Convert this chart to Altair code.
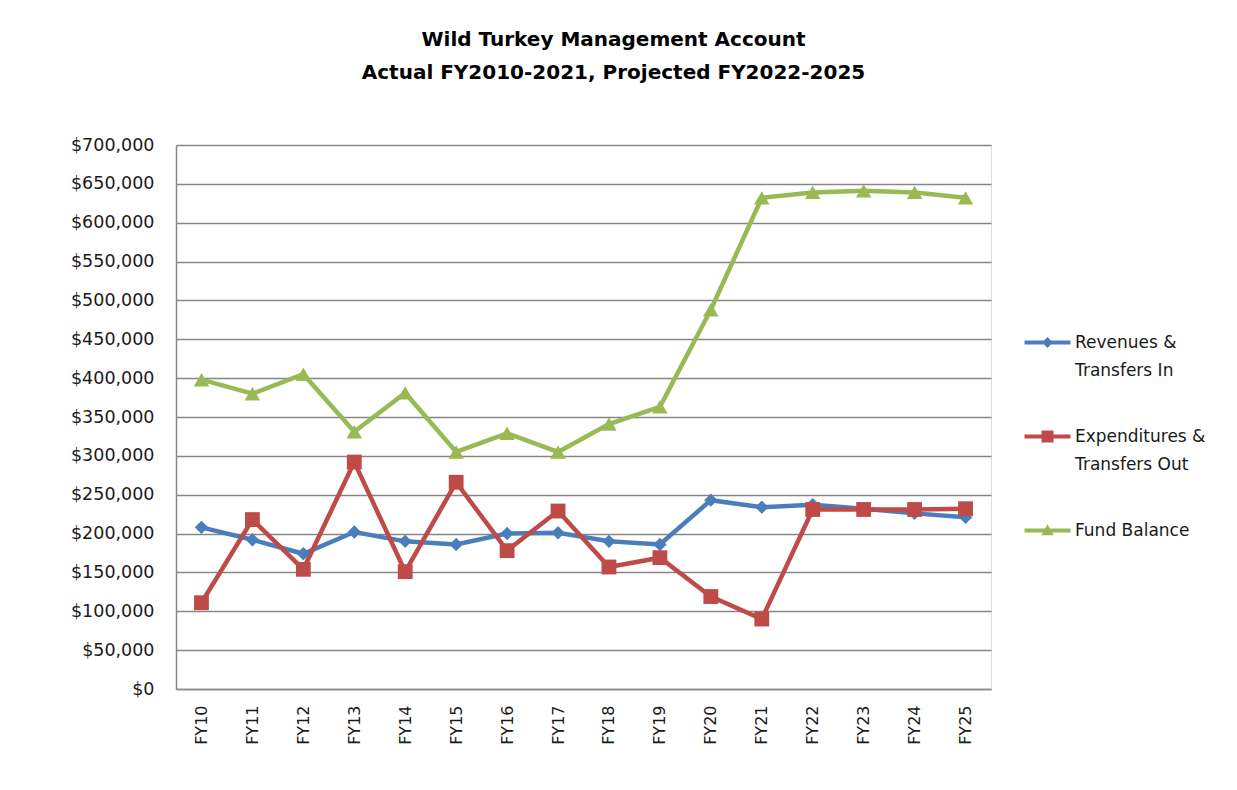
import altair as alt
import pandas as pd

years = ["FY10", "FY11", "FY12", "FY13", "FY14", "FY15", "FY16", "FY17",
         "FY18", "FY19", "FY20", "FY21", "FY22", "FY23", "FY24", "FY25"]
revenues = [208000, 192000, 174000, 202000, 190000, 186000, 200000, 201000,
            190000, 186000, 243000, 234000, 237000, 232000, 226000, 221000]
expenditures = [111000, 218000, 154000, 292000, 151000, 266000, 178000, 229000,
                157000, 169000, 119000, 90000, 231000, 231000, 231000, 232000]
fund_balance = [398000, 380000, 405000, 331000, 381000, 305000, 329000, 305000,
                341000, 363000, 488000, 632000, 639000, 641000, 639000, 632000]

series = ["Revenues & Transfers In", "Expenditures & Transfers Out", "Fund Balance"]
colors = ["#4A7EBB", "#BE4B48", "#98B954"]
marker_shapes = ["diamond", "square", "triangle-up"]
marker_sizes = [180, 220, 240]

rows = []
for name, vals in zip(series, [revenues, expenditures, fund_balance]):
    for yr, v in zip(years, vals):
        rows.append({"year": yr, "series": name, "value": v})
df = pd.DataFrame(rows)


# legend symbols: a line with the marker on it (custom SVG paths, unit = 6px)
def legend_path(kind):
    line = "M-3.83,-0.33H3.83V0.33H-3.83Z"
    if kind == "diamond":
        m = "M0,-0.9L0.9,0L0,0.9L-0.9,0Z"
    elif kind == "square":
        m = "M-1,-1H1V1H-1Z"
    else:
        m = "M0,-1.05L1.05,0.8H-1.05Z"
    return line + m


legend_paths = [legend_path("diamond"), legend_path("square"), legend_path("triangle")]

label_expr = ("indexof(datum.label, '&') > 0 ? "
              "[slice(datum.label, 0, indexof(datum.label, '&') + 1), "
              "slice(datum.label, indexof(datum.label, '&') + 2)] : datum.label")

legend = alt.Legend(
    title=None, orient="none", legendX=863, legendY=189, padding=0,
    labelExpr=label_expr, labelFont="DejaVu Sans", labelFontSize=17,
    labelColor="#1a1a1a", labelOffset=19, labelLimit=400,
    symbolSize=144, symbolStrokeWidth=0, rowPadding=48,
)

x = alt.X("year:N", sort=years, title=None,
          scale=alt.Scale(padding=0.5),
          axis=alt.Axis(labelAngle=270, labelFont="DejaVu Sans", labelFontSize=16,
                        labelColor="#1a1a1a", labelPadding=16, ticks=False,
                        grid=False, domainColor="#8a8a8a", domainWidth=1.5))
y = alt.Y("value:Q", title=None,
          scale=alt.Scale(domain=[0, 700000], nice=False),
          axis=alt.Axis(values=list(range(0, 700001, 50000)), format="$,.0f",
                        labelFont="DejaVu Sans", labelFontSize=17.5,
                        labelColor="#1a1a1a", labelPadding=22, ticks=False,
                        grid=True, gridColor="#868686", gridWidth=1.3,
                        domainColor="#868686", domainWidth=1.5))
color_nolegend = alt.Color("series:N", scale=alt.Scale(domain=series, range=colors),
                           legend=None)

base = alt.Chart(df)

leg_layer = base.transform_filter("false").mark_point(filled=True, opacity=1).encode(
    x=x, y=y,
    color=alt.Color("series:N", scale=alt.Scale(domain=series, range=colors), legend=legend),
    shape=alt.Shape("series:N", scale=alt.Scale(domain=series, range=legend_paths),
                    legend=legend),
)

lines = base.mark_line(strokeWidth=4.5).encode(x=x, y=y, color=color_nolegend)

layers = [leg_layer, lines]
for name, shp, sz in zip(series, marker_shapes, marker_sizes):
    layers.append(
        base.transform_filter(alt.datum.series == name)
        .mark_point(shape=shp, filled=True, size=sz, opacity=1, strokeWidth=0)
        .encode(x=x, y=y, color=color_nolegend)
    )

chart = alt.layer(*layers).properties(
    width=815, height=544,
    autosize=alt.AutoSizeParams(type="none"),
    padding={"left": 168, "top": 137, "right": 230, "bottom": 85},
    background="white",
    title=alt.TitleParams(
        text=["Wild Turkey Management Account", "Actual FY2010-2021, Projected FY2022-2025"],
        font="DejaVu Sans", fontSize=20, fontWeight="bold", color="#000000",
        anchor="middle", frame="group", dx=30, offset=53, lineHeight=33,
    ),
).configure_view(stroke=None).configure(
    style={"guide-label": {"lineHeight": 28}}
)

chart.save("out.html", embed_options={"renderer": "svg", "actions": False})
